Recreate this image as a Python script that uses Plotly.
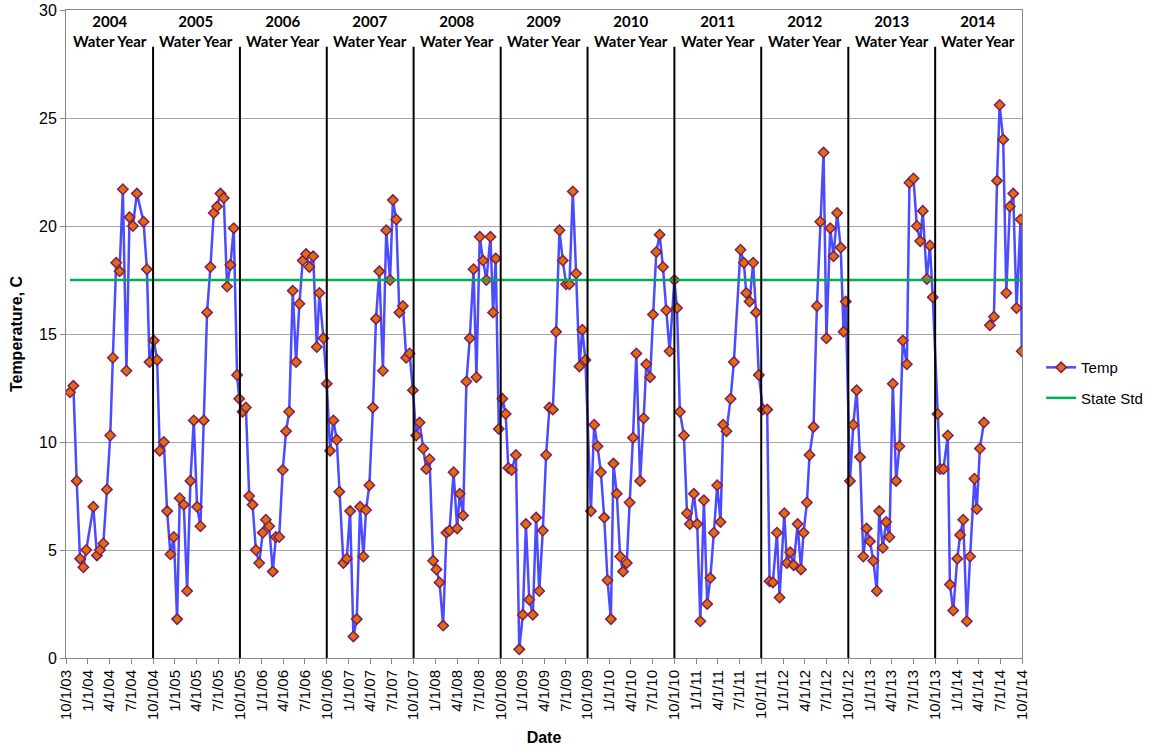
import plotly.graph_objects as go

# sample dates and temperatures, one water year per block
dates = [
    # WY2004
    "2003-10-18", "2003-11-01", "2003-11-15", "2003-11-29", "2003-12-13", "2003-12-25",
    "2004-01-24", "2004-02-08", "2004-02-21", "2004-03-06", "2004-03-21", "2004-04-04",
    "2004-04-15", "2004-04-29", "2004-05-13", "2004-05-27", "2004-06-11", "2004-06-24",
    "2004-07-08", "2004-07-25", "2004-08-22", "2004-09-05", "2004-09-16",
    # WY2005
    "2004-10-04", "2004-10-18", "2004-10-29", "2004-11-15", "2004-11-29", "2004-12-13",
    "2004-12-27", "2005-01-10", "2005-01-21", "2005-02-07", "2005-02-21", "2005-03-07",
    "2005-03-21", "2005-04-04", "2005-04-18", "2005-05-02", "2005-05-16", "2005-05-30",
    "2005-06-13", "2005-06-27", "2005-07-11", "2005-07-25", "2005-08-08", "2005-08-22",
    "2005-09-05", "2005-09-19",
    # WY2006
    "2005-09-28", "2005-10-12", "2005-10-26", "2005-11-09", "2005-11-23", "2005-12-07",
    "2005-12-21", "2006-01-05", "2006-01-18", "2006-02-01", "2006-02-16", "2006-03-01",
    "2006-03-15", "2006-03-30", "2006-04-13", "2006-04-26", "2006-05-11", "2006-05-25",
    "2006-06-08", "2006-06-22", "2006-07-06", "2006-07-20", "2006-08-05", "2006-08-20",
    "2006-08-31", "2006-09-17",
    # WY2007
    "2006-10-01", "2006-10-15", "2006-10-29", "2006-11-12", "2006-11-23", "2006-12-10",
    "2006-12-24", "2007-01-07", "2007-01-21", "2007-02-04", "2007-02-18", "2007-03-04",
    "2007-03-15", "2007-03-29", "2007-04-13", "2007-04-26", "2007-05-10", "2007-05-25",
    "2007-06-08", "2007-06-24", "2007-07-06", "2007-07-20", "2007-08-02", "2007-08-17",
    "2007-08-31", "2007-09-14", "2007-09-28",
    # WY2008
    "2007-10-12", "2007-10-26", "2007-11-10", "2007-11-23", "2007-12-07", "2007-12-22",
    "2008-01-05", "2008-01-18", "2008-02-02", "2008-02-16", "2008-02-29", "2008-03-17",
    "2008-04-01", "2008-04-12", "2008-04-26", "2008-05-10", "2008-05-24", "2008-06-09",
    "2008-06-21", "2008-07-05", "2008-07-19", "2008-08-02", "2008-08-19", "2008-08-30",
    "2008-09-10", "2008-09-23",
    # WY2009
    "2008-10-08", "2008-10-22", "2008-11-02", "2008-11-16", "2008-12-04", "2008-12-18",
    "2009-01-02", "2009-01-15", "2009-01-29", "2009-02-13", "2009-02-27", "2009-03-12",
    "2009-03-27", "2009-04-10", "2009-04-24", "2009-05-08", "2009-05-22", "2009-06-05",
    "2009-06-19", "2009-07-03", "2009-07-17", "2009-07-31", "2009-08-14", "2009-08-28",
    "2009-09-09", "2009-09-22",
    # WY2010
    "2009-10-15", "2009-10-29", "2009-11-12", "2009-11-26", "2009-12-10", "2009-12-24",
    "2010-01-07", "2010-01-18", "2010-02-01", "2010-02-15", "2010-02-27", "2010-03-15",
    "2010-03-27", "2010-04-10", "2010-04-24", "2010-05-10", "2010-05-25", "2010-06-05",
    "2010-06-21", "2010-07-03", "2010-07-17", "2010-07-31", "2010-08-14", "2010-08-28",
    "2010-09-11",
    # WY2011
    "2010-10-01", "2010-10-12", "2010-10-24", "2010-11-10", "2010-11-23", "2010-12-05",
    "2010-12-22", "2011-01-05", "2011-01-18", "2011-02-02", "2011-02-16", "2011-03-01",
    "2011-03-16", "2011-03-30", "2011-04-13", "2011-04-24", "2011-05-08", "2011-05-25",
    "2011-06-08", "2011-07-06", "2011-07-20", "2011-07-30", "2011-08-13", "2011-08-28",
    "2011-09-09", "2011-09-21",
    # WY2012
    "2011-10-08", "2011-10-26", "2011-11-05", "2011-11-19", "2011-12-06", "2011-12-17",
    "2012-01-06", "2012-01-17", "2012-01-31", "2012-02-14", "2012-03-02", "2012-03-16",
    "2012-03-27", "2012-04-10", "2012-04-21", "2012-05-08", "2012-05-22", "2012-06-05",
    "2012-06-19", "2012-07-01", "2012-07-17", "2012-07-31", "2012-08-15", "2012-08-30",
    "2012-09-11", "2012-09-20",
    # WY2013
    "2012-10-08", "2012-10-22", "2012-11-05", "2012-11-19", "2012-12-03", "2012-12-17",
    "2012-12-31", "2013-01-14", "2013-01-29", "2013-02-08", "2013-02-23", "2013-03-09",
    "2013-03-23", "2013-04-06", "2013-04-20", "2013-05-04", "2013-05-18", "2013-06-04",
    "2013-06-15", "2013-07-02", "2013-07-16", "2013-07-30", "2013-08-10", "2013-08-27",
    "2013-09-09", "2013-09-21",
    # WY2014 (no sample early May)
    "2013-10-11", "2013-10-22", "2013-11-05", "2013-11-23", "2013-12-02", "2013-12-16",
    "2014-01-02", "2014-01-14", "2014-01-27", "2014-02-11", "2014-02-25", "2014-03-15",
    "2014-03-25", "2014-04-07", "2014-04-24", "2014-05-07", "2014-05-19", "2014-06-05",
    "2014-06-18", "2014-06-29", "2014-07-14", "2014-07-27", "2014-08-11", "2014-08-25",
    "2014-09-08", "2014-09-25", "2014-09-30",
]

temps = [
    # WY2004
    12.3, 12.6, 8.2, 4.6, 4.2, 5.0,
    7.0, 4.75, 5.0, 5.3, 7.8, 10.3,
    13.9, 18.3, 17.9, 21.7, 13.3, 20.4,
    20.0, 21.5, 20.2, 18.0, 13.7,
    # WY2005
    14.7, 13.8, 9.6, 10.0, 6.8, 4.8,
    5.6, 1.8, 7.4, 7.1, 3.1, 8.2,
    11.0, 7.0, 6.1, 11.0, 16.0, 18.1,
    20.6, 20.9, 21.5, 21.3, 17.2, 18.2,
    19.9, 13.1,
    # WY2006
    12.0, 11.4, 11.6, 7.5, 7.1, 5.0,
    4.4, 5.8, 6.4, 6.1, 4.0, 5.6,
    5.6, 8.7, 10.5, 11.4, 17.0, 13.7,
    16.4, 18.4, 18.7, 18.1, 18.6, 14.4,
    16.9, 14.8,
    # WY2007
    12.7, 9.6, 11.0, 10.1, 7.7, 4.4,
    4.6, 6.8, 1.0, 1.8, 7.0, 4.7,
    6.85, 8.0, 11.6, 15.7, 17.9, 13.3,
    19.8, 17.5, 21.2, 20.3, 16.0, 16.3,
    13.9, 14.1, 12.4,
    # WY2008
    10.3, 10.9, 9.7, 8.75, 9.2, 4.5,
    4.1, 3.5, 1.5, 5.8, 5.9, 8.6,
    6.0, 7.6, 6.6, 12.8, 14.8, 18.0,
    13.0, 19.5, 18.4, 17.5, 19.5, 16.0,
    18.5, 10.6,
    # WY2009
    12.0, 11.3, 8.8, 8.7, 9.4, 0.4,
    2.0, 6.2, 2.7, 2.0, 6.5, 3.1,
    5.9, 9.4, 11.6, 11.5, 15.1, 19.8,
    18.4, 17.3, 17.3, 21.6, 17.8, 13.5,
    15.2, 13.8,
    # WY2010
    6.8, 10.8, 9.8, 8.6, 6.5, 3.6,
    1.8, 9.0, 7.6, 4.7, 4.0, 4.4,
    7.2, 10.2, 14.1, 8.2, 11.1, 13.6,
    13.0, 15.9, 18.8, 19.6, 18.1, 16.1,
    14.2,
    # WY2011
    17.5, 16.2, 11.4, 10.3, 6.7, 6.2,
    7.6, 6.2, 1.7, 7.3, 2.5, 3.7,
    5.8, 8.0, 6.3, 10.8, 10.5, 12.0,
    13.7, 18.9, 18.3, 16.9, 16.5, 18.3,
    16.0, 13.1,
    # WY2012
    11.5, 11.5, 3.55, 3.5, 5.8, 2.8,
    6.7, 4.4, 4.9, 4.3, 6.2, 4.1,
    5.8, 7.2, 9.4, 10.7, 16.3, 20.2,
    23.4, 14.8, 19.9, 18.6, 20.6, 19.0,
    15.1, 16.5,
    # WY2013
    8.2, 10.8, 12.4, 9.3, 4.7, 6.0,
    5.4, 4.5, 3.1, 6.8, 5.1, 6.3,
    5.6, 12.7, 8.2, 9.8, 14.7, 13.6,
    22.0, 22.2, 20.0, 19.3, 20.7, 17.55,
    19.1, 16.7,
    # WY2014
    11.3, 8.75, 8.75, 10.3, 3.4, 2.2,
    4.6, 5.7, 6.4, 1.7, 4.7, 8.3,
    6.9, 9.7, 10.9, None, 15.4, 15.8,
    22.1, 25.6, 24.0, 16.9, 20.9, 21.5,
    16.2, 20.3, 14.2,
]

state_std = 17.5
water_years = [2004, 2005, 2006, 2007, 2008, 2009, 2010, 2011, 2012, 2013, 2014]

fig = go.Figure()

fig.add_trace(go.Scatter(
    x=dates, y=temps, name="Temp", mode="lines+markers",
    line=dict(color="#4B4BFF", width=2.5),
    marker=dict(symbol="diamond", size=8, color="#E26B0A",
                line=dict(color="#7A1F5C", width=1.5)),
    legendgroup="temp",
))

fig.add_trace(go.Scatter(
    x=[dates[0], dates[-1]], y=[state_std, state_std], name="State Std",
    mode="lines", line=dict(color="#00B050", width=2.5),
    legendgroup="std",
))

# water year dividers and labels
for wy in water_years:
    if wy > water_years[0]:
        fig.add_shape(type="line", xref="x", yref="y",
                      x0=f"{wy - 1}-10-01", x1=f"{wy - 1}-10-01", y0=0, y1=28.3,
                      line=dict(color="black", width=2), layer="above")
    fig.add_annotation(
        x=f"{wy}-04-01", y=1.0, xref="x", yref="paper", yanchor="top",
        text=f"<b>{wy}</b><br><b>Water Year</b>", showarrow=False,
        font=dict(family="Lato", size=15, color="black"), align="center",
    )

fig.update_layout(
    width=1159, height=746,
    margin=dict(l=66, r=137, t=10, b=88),
    paper_bgcolor="white", plot_bgcolor="white",
    font=dict(family="Liberation Sans, Arial", color="black"),
    legend=dict(x=1.02, y=0.425, yanchor="middle", font=dict(size=15),
                bgcolor="rgba(0,0,0,0)", tracegroupgap=8),
    showlegend=True,
)

fig.update_xaxes(
    type="date", range=["2003-10-01", "2014-10-01"], automargin=False,
    tick0="2003-10-01", dtick="M3", tickformat="%-m/%-d/%y", tickangle=-90,
    tickfont=dict(size=15), ticks="outside", ticklen=5, tickcolor="#888888",
    showgrid=False, showline=True, linecolor="#888888", linewidth=1, mirror=True,
    title=dict(text="<b>Date</b>", font=dict(size=16), standoff=12),
)

fig.update_yaxes(
    range=[0, 30], dtick=5, tickfont=dict(size=16), automargin=False,
    ticks="outside", ticklen=5, tickcolor="#888888",
    showgrid=True, gridcolor="#A6A6A6", gridwidth=1,
    showline=True, linecolor="#888888", linewidth=1, mirror=True,
    zeroline=False,
    title=dict(text="<b>Temperature, C</b>", font=dict(size=16), standoff=12),
)

# drop the default page margin so the figure sits at the window corner
fig.write_html("out.html", config={"displayModeBar": False},
               post_script="document.body.style.margin='0';")
